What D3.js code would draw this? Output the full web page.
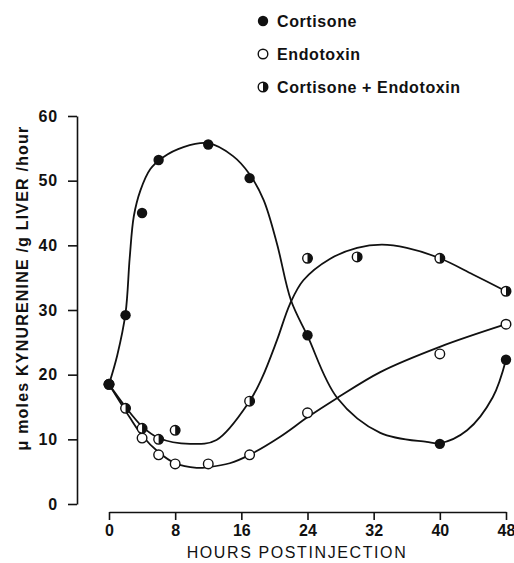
<!DOCTYPE html>
<html>
<head>
<meta charset="utf-8">
<script src="https://cdn.jsdelivr.net/npm/d3@7"></script>
<style>
  body { margin: 0; background: #fff; }
  text { font-family: "Liberation Sans", Arial, sans-serif; font-weight: bold; fill: #111; }
</style>
</head>
<body>
<div id="chart"></div>
<script>
// measured points (hours, umol/g/hr)
var cortisone = [[0,18.5],[2,29.2],[4,45],[6,53.2],[12,55.6],[17,50.4],[24,26.1],[40,9.3],[48,22.3]];
var endotoxin = [[0,18.5],[4,10.2],[6,7.6],[8,6.2],[12,6.2],[17,7.6],[24,14.1],[40,23.2],[48,27.8]];
var combined  = [[0,18.5],[2,14.8],[4,11.7],[6,10],[8,11.4],[17,15.9],[24,38],[30,38.2],[40,38],[48,32.9]];

// hand-fitted curves
var cortisoneCurve = [[0,18.5],[1,23],[2,29.5],[2.5,38],[3,44.5],[3.8,48.5],[5,51.8],[6.5,53.6],[9,55.2],[12,55.8],[15,53.8],[17,51],[18.7,47],[20.3,40.3],[22,31.5],[24,26],[27.6,16.4],[32.8,11],[38.4,9.6],[40,9.4],[43.3,11.4],[46.4,16.5],[48,22.3]];
var endotoxinCurve = [[0,18.5],[2.5,13.4],[4,10.6],[6,8],[8,6.3],[10.6,5.6],[12,5.7],[14.6,6.3],[17,7.6],[20.7,10.4],[24,13.4],[27.6,16.4],[32.8,20.4],[40,24.3],[48,27.8]];
var combinedCurve  = [[0,18.5],[2,15],[4,12],[6,10.2],[9.8,9.3],[13,9.9],[17,15.9],[18.5,19.5],[20.3,25.3],[21.9,31],[23.5,34.6],[26.7,37.9],[30,39.6],[33,40.1],[36,39.6],[40,38],[44,35.5],[48,32.9]];

var xTicks = [0,8,16,24,32,40,48];
var yTicks = [0,10,20,30,40,50,60];
var legendLabels = ["Cortisone","Endotoxin","Cortisone + Endotoxin"];

var svg = d3.select("#chart").append("svg")
    .attr("width", 514)
    .attr("height", 563);

var x = d3.scaleLinear().domain([0,48]).range([109,506]);
var y = d3.scaleLinear().domain([0,60]).range([504,116]);

// axes
var xAxis = svg.append("g")
    .attr("transform", "translate(0,512)")
    .call(d3.axisBottom(x).tickValues(xTicks).tickSize(8).tickSizeOuter(0).tickPadding(5));
var yAxis = svg.append("g")
    .attr("transform", "translate(77,0)")
    .call(d3.axisLeft(y).tickValues(yTicks).tickSize(9).tickSizeOuter(0).tickPadding(10));

[xAxis, yAxis].forEach(function (g) {
    g.selectAll("path, line").attr("stroke", "#111").attr("stroke-width", 1.6);
    g.selectAll("text").style("font-size", "16px").attr("fill", "#111");
});
yAxis.selectAll("text").style("letter-spacing", "0.8px");

svg.append("text")
    .attr("x", 297).attr("y", 558)
    .attr("text-anchor", "middle")
    .style("font-size", "16px")
    .style("letter-spacing", "1.6px")
    .style("font-weight", "normal")
    .text("HOURS  POSTINJECTION");

svg.append("text")
    .attr("transform", "translate(28,288) rotate(-90)")
    .attr("text-anchor", "middle")
    .style("font-size", "16px")
    .style("letter-spacing", "1.2px")
    .text("\u03bc moles  KYNURENINE /g LIVER /hour");

// curves
var line = d3.line()
    .x(function (d) { return x(d[0]); })
    .y(function (d) { return y(d[1]); })
    .curve(d3.curveCatmullRom.alpha(0.5));

[cortisoneCurve, endotoxinCurve, combinedCurve].forEach(function (c) {
    svg.append("path")
        .attr("d", line(c))
        .attr("fill", "none")
        .attr("stroke", "#111")
        .attr("stroke-width", 1.8);
});

// markers
function openDot(g, cx, cy) {
    g.append("circle").attr("cx", cx).attr("cy", cy).attr("r", 4.8)
        .attr("fill", "#fff").attr("stroke", "#111").attr("stroke-width", 1.4);
}
function halfDot(g, cx, cy) {
    openDot(g, cx, cy);
    var r = 4.8;
    g.append("path")
        .attr("d", "M" + cx + "," + (cy - r) + " A" + r + "," + r + " 0 0,1 " + cx + "," + (cy + r) + " Z")
        .attr("fill", "#111");
}
function fullDot(g, cx, cy) {
    g.append("circle").attr("cx", cx).attr("cy", cy).attr("r", 5.2).attr("fill", "#111");
}

var marks = svg.append("g");
endotoxin.forEach(function (d) { openDot(marks, x(d[0]), y(d[1])); });
combined.forEach(function (d) { halfDot(marks, x(d[0]), y(d[1])); });
cortisone.forEach(function (d) { fullDot(marks, x(d[0]), y(d[1])); });

// legend
var legend = svg.append("g");
var drawers = [fullDot, openDot, halfDot];
legendLabels.forEach(function (lab, i) {
    var ly = 21 + i * 33;
    drawers[i](legend, 263, ly);
    legend.append("text")
        .attr("x", 277).attr("y", ly + 6)
        .style("font-size", "16px")
        .style("letter-spacing", "0.6px")
        .text(lab);
});
</script>
</body>
</html>
